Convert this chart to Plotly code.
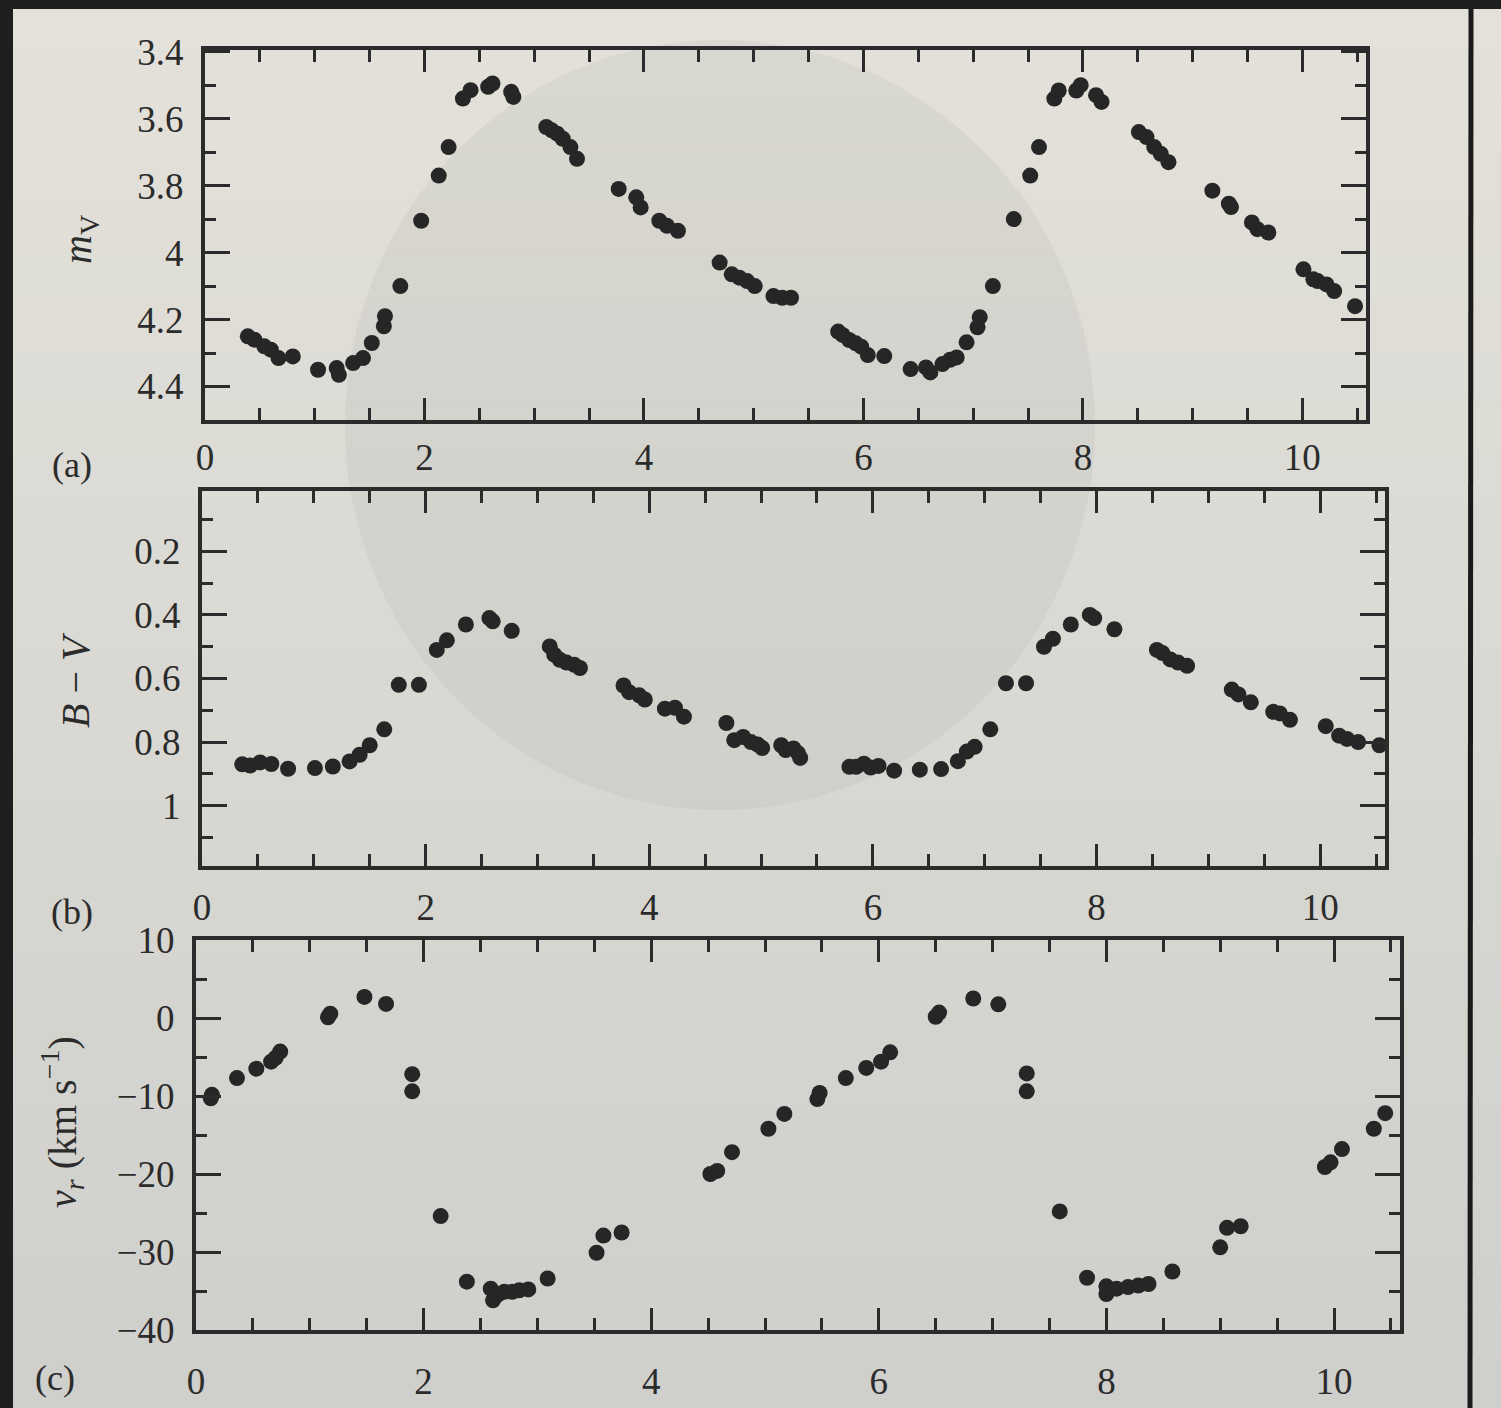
import plotly.graph_objects as go

# ---------------- data ----------------
# (a) apparent visual magnitude versus time (days)
t_mag = [0.39, 0.45, 0.54, 0.60, 0.67, 0.80, 1.03, 1.20, 1.22, 1.35, 1.44, 1.52,
         1.63, 1.64, 1.78, 1.97, 2.13, 2.22, 2.35, 2.42, 2.58, 2.62, 2.79, 2.81,
         3.11, 3.16, 3.21, 3.26, 3.33, 3.39, 3.77, 3.93, 3.97, 4.14, 4.21, 4.31,
         4.69, 4.80, 4.87, 4.94, 5.01, 5.18, 5.26, 5.34,
         5.77, 5.81, 5.87, 5.93, 5.98, 6.04, 6.19, 6.43, 6.57, 6.61, 6.72, 6.79,
         6.85, 6.94, 7.04, 7.06, 7.18, 7.37, 7.52, 7.60, 7.74, 7.78, 7.94, 7.98,
         8.12, 8.17, 8.51, 8.58, 8.65, 8.71, 8.78, 9.18, 9.33, 9.35, 9.54, 9.59,
         9.69, 10.01, 10.10, 10.14, 10.22, 10.29, 10.48]
m_v = [4.25, 4.26, 4.28, 4.29, 4.315, 4.31, 4.35, 4.345, 4.365, 4.33, 4.315, 4.27,
       4.22, 4.19, 4.10, 3.905, 3.77, 3.685, 3.54, 3.515, 3.505, 3.495, 3.52, 3.535,
       3.625, 3.635, 3.645, 3.66, 3.685, 3.72, 3.81, 3.835, 3.865, 3.905, 3.92, 3.935,
       4.03, 4.065, 4.075, 4.085, 4.10, 4.13, 4.135, 4.135,
       4.236, 4.246, 4.261, 4.271, 4.281, 4.306, 4.309, 4.348, 4.343, 4.358, 4.333, 4.32,
       4.313, 4.268, 4.223, 4.193, 4.10, 3.90, 3.77, 3.685, 3.54, 3.516, 3.516, 3.50,
       3.53, 3.55, 3.64, 3.655, 3.685, 3.705, 3.73, 3.815, 3.854, 3.864, 3.91, 3.93,
       3.94, 4.05, 4.08, 4.085, 4.095, 4.115, 4.16]

# (b) B - V colour index versus time (days)
t_bv = [0.36, 0.43, 0.52, 0.62, 0.77, 1.01, 1.17, 1.32, 1.41, 1.50, 1.63, 1.76,
        1.94, 2.10, 2.19, 2.36, 2.57, 2.60, 2.77, 3.11, 3.15, 3.20, 3.26, 3.33,
        3.38, 3.77, 3.82, 3.91, 3.96, 4.14, 4.23, 4.31, 4.69, 4.76, 4.84, 4.91,
        4.97, 5.01, 5.18, 5.22, 5.29, 5.33, 5.35,
        5.79, 5.85, 5.92, 5.98, 6.05, 6.19, 6.42, 6.61, 6.76, 6.84, 6.91, 7.05,
        7.19, 7.37, 7.53, 7.61, 7.77, 7.94, 7.98, 8.16, 8.54, 8.59, 8.66, 8.73,
        8.81, 9.21, 9.27, 9.38, 9.58, 9.64, 9.73, 10.05, 10.17, 10.24, 10.34, 10.53]
b_v = [0.870, 0.874, 0.864, 0.869, 0.884, 0.882, 0.877, 0.861, 0.840, 0.810, 0.760, 0.620,
       0.620, 0.510, 0.480, 0.430, 0.410, 0.420, 0.450, 0.499, 0.525, 0.541, 0.550, 0.557,
       0.567, 0.622, 0.643, 0.653, 0.666, 0.695, 0.692, 0.720, 0.740, 0.794, 0.784, 0.800,
       0.808, 0.819, 0.810, 0.825, 0.820, 0.835, 0.850,
       0.878, 0.878, 0.868, 0.880, 0.875, 0.890, 0.887, 0.885, 0.860, 0.830, 0.815, 0.760,
       0.615, 0.615, 0.500, 0.475, 0.430, 0.400, 0.410, 0.445, 0.510, 0.520, 0.540, 0.550,
       0.560, 0.635, 0.650, 0.675, 0.705, 0.710, 0.730, 0.750, 0.780, 0.790, 0.800, 0.810]

# (c) radial velocity (km/s) versus time (days)
t_vr = [0.13, 0.14, 0.36, 0.53, 0.66, 0.70, 0.74, 1.16, 1.18, 1.48, 1.67, 1.90,
        1.90, 2.15, 2.38, 2.59, 2.61, 2.65, 2.71, 2.78, 2.84, 2.92, 3.09, 3.52,
        3.58, 3.74, 4.52, 4.58, 4.71, 5.03, 5.17, 5.46, 5.48, 5.71, 5.89, 6.02,
        6.10, 6.50, 6.53, 6.83, 7.05, 7.30, 7.30, 7.59, 7.83, 8.00, 8.00, 8.01,
        8.09, 8.19, 8.28, 8.37, 8.58, 9.00, 9.06, 9.18, 9.92, 9.97, 10.07, 10.35,
        10.45]
v_r = [-10.3, -9.85, -7.7, -6.5, -5.6, -5.1, -4.3, 0.1, 0.55, 2.7, 1.8, -7.2,
       -9.4, -25.4, -33.8, -34.7, -36.2, -35.5, -35.1, -35.1, -34.9, -34.8, -33.4, -30.1,
       -27.9, -27.5, -20.0, -19.6, -17.2, -14.2, -12.3, -10.4, -9.6, -7.7, -6.4, -5.6,
       -4.4, 0.16, 0.7, 2.5, 1.75, -7.1, -9.4, -24.8, -33.3, -34.4, -35.4, -34.8,
       -34.7, -34.5, -34.3, -34.1, -32.5, -29.4, -26.9, -26.7, -19.1, -18.5, -16.8, -14.2,
       -12.2]

# ---------------- styling ----------------
W, H = 1501, 1408
INK = "#2b2b2b"
SERIF = "Liberation Serif"
PAGE = "#d9d8d2"


def fx(p):
    return p / W


def fy(p):
    return 1 - p / H


def x_axis(left, right, anchor, standoff):
    return dict(
        domain=[fx(left), fx(right)], anchor=anchor, range=[0, 10.58],
        automargin=False,
        showline=True, linewidth=4, linecolor=INK, mirror="allticks",
        ticks="inside", ticklen=22, tickwidth=3, tickcolor=INK,
        tickmode="linear", tick0=0, dtick=2,
        minor=dict(ticks="inside", ticklen=12, tickwidth=3, tickcolor=INK,
                   tickmode="linear", tick0=0, dtick=0.5),
        showgrid=False, zeroline=False, ticklabelstandoff=standoff,
        tickfont=dict(family=SERIF, size=37, color=INK),
    )


def y_axis(top, bottom, anchor, rng, tick0, dtick, minor_dtick):
    return dict(
        domain=[fy(bottom), fy(top)], anchor=anchor, range=rng,
        automargin=False,
        showline=True, linewidth=4, linecolor=INK, mirror="allticks",
        ticks="inside", ticklen=25, tickwidth=3, tickcolor=INK,
        tickmode="linear", tick0=tick0, dtick=dtick,
        minor=dict(ticks="inside", ticklen=11, tickwidth=3, tickcolor=INK,
                   tickmode="linear", tick0=tick0, dtick=minor_dtick),
        showgrid=False, zeroline=False, ticklabelstandoff=10,
        tickfont=dict(family=SERIF, size=37, color=INK),
    )


marker = dict(size=16, color="#262626", line=dict(width=0))

fig = go.Figure()
fig.add_trace(go.Scatter(x=t_mag, y=m_v, mode="markers", marker=marker,
                         xaxis="x", yaxis="y", hoverinfo="x+y"))
fig.add_trace(go.Scatter(x=t_bv, y=b_v, mode="markers", marker=marker,
                         xaxis="x2", yaxis="y2", hoverinfo="x+y"))
fig.add_trace(go.Scatter(x=t_vr, y=v_r, mode="markers", marker=marker,
                         xaxis="x3", yaxis="y3", hoverinfo="x+y"))

# page background: gentle top-to-bottom shading in thin bands
top_rgb = (0xe3, 0xe1, 0xd9)
bot_rgb = (0xcf, 0xcf, 0xcc)
shapes = []
n = 28
for i in range(n):
    f = i / (n - 1)
    c = tuple(round(a + (b - a) * f) for a, b in zip(top_rgb, bot_rgb))
    shapes.append(dict(type="rect", xref="paper", yref="paper", layer="below",
                       x0=0, x1=1, y0=1 - (i + 1) / n, y1=1 - i / n,
                       fillcolor="rgb(%d,%d,%d)" % c, line=dict(width=0)))
# faint disc showing through the paper
shapes.append(dict(type="circle", xref="paper", yref="paper", layer="below",
                   x0=fx(345), x1=fx(1095), y0=fy(810), y1=fy(40),
                   fillcolor="#b4b4b2", opacity=0.22, line=dict(width=0)))
# dark surroundings of the page and the page edge on the right
shapes.append(dict(type="rect", xref="paper", yref="paper", layer="above",
                   x0=0, x1=fx(13), y0=0, y1=1, fillcolor="#1e1e1e", line=dict(width=0)))
shapes.append(dict(type="rect", xref="paper", yref="paper", layer="above",
                   x0=0, x1=1, y0=fy(9), y1=1, fillcolor="#1e1e1e", line=dict(width=0)))
shapes.append(dict(type="line", xref="paper", yref="paper", layer="above",
                   x0=fx(1470), x1=fx(1471), y0=0, y1=fy(9),
                   line=dict(color="#1a1a1a", width=5)))

title_font = dict(family=SERIF, size=40, color=INK)
label_font = dict(family=SERIF, size=36, color=INK)
annotations = [
    dict(text="<i>m</i><sub>V</sub>", x=fx(80), y=fy(240), textangle=-90),
    dict(text="<i>B</i> \u2212 <i>V</i>", x=fx(75), y=fy(680), textangle=-90),
    dict(text="<i>v<sub>r</sub></i> (km s<sup>\u22121</sup>)", x=fx(62), y=fy(1122),
         textangle=-90),
]
for a in annotations:
    a.update(xref="paper", yref="paper", showarrow=False, font=title_font,
             xanchor="center", yanchor="middle")
for txt, x, y in [("(a)", 72, 465), ("(b)", 72, 912), ("(c)", 55, 1378)]:
    annotations.append(dict(text=txt, x=fx(x), y=fy(y), xref="paper", yref="paper",
                            showarrow=False, font=label_font,
                            xanchor="center", yanchor="middle"))

fig.update_layout(
    width=W, height=H,
    margin=dict(l=0, r=0, t=0, b=0, pad=0, autoexpand=False),
    paper_bgcolor=PAGE, plot_bgcolor="rgba(0,0,0,0)",
    showlegend=False,
    shapes=shapes, annotations=annotations,
    xaxis=x_axis(205, 1366, "y", 2),
    yaxis=y_axis(50, 420, "x", [4.5, 3.395], 3.4, 0.2, 0.1),
    xaxis2=x_axis(202, 1385, "y2", 6),
    yaxis2=y_axis(491, 866, "x2", [1.19, 0.01], 0.2, 0.2, 0.1),
    xaxis3=x_axis(196, 1400, "y3", 16),
    yaxis3=y_axis(940, 1330, "x3", [-40, 10], -40, 10, 5),
)

fig.write_html(
    "out.html",
    post_script="document.documentElement.style.margin='0';"
                "document.body.style.margin='0';document.body.style.padding='0';"
                "document.body.style.background='#1e1e1e';",
)
